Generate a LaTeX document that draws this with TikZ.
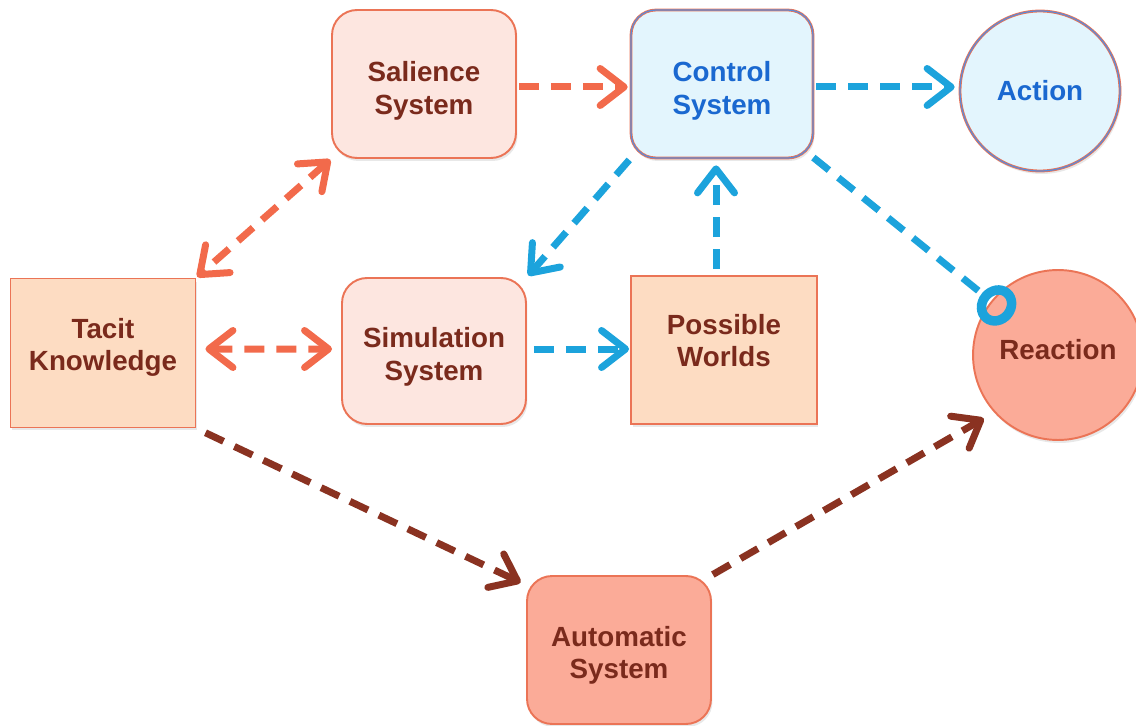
\documentclass[tikz,border=0pt]{standalone}
\usepackage{fontspec}
\setmainfont{Liberation Sans}
\usetikzlibrary{arrows.meta,shadows}
\definecolor{edgec}{HTML}{EB7456}
\definecolor{txtred}{HTML}{7A2A1C}
\definecolor{txtblue}{HTML}{1A68D0}
\definecolor{fillpink}{HTML}{FDE6E0}
\definecolor{fillpeach}{HTML}{FDDCC2}
\definecolor{fillblue}{HTML}{E3F5FD}
\definecolor{fillsalmon}{HTML}{FBAB98}
\definecolor{orangeln}{HTML}{F26A4B}
\definecolor{blueln}{HTML}{1CA3DC}
\definecolor{brownln}{HTML}{8A3221}
\definecolor{actedge}{HTML}{5C8AD6}
% two-line label lowered (positive) or raised (negative) by #1, keeping the box size
\newcommand{\twolbl}[3]{\raisebox{-#1}[\height][\depth]{\begin{tabular}{@{}c@{}}#2\\#3\end{tabular}}}
\newcommand{\onelbl}[2]{\raisebox{-#1}[\height][\depth]{#2}}
\begin{document}
\begin{tikzpicture}[x=0.02cm,y=-0.02cm,
  box/.style={draw=edgec, line width=1.1pt, minimum width=3.68cm, minimum height=2.96cm,
    font=\fontsize{15.8}{18.5}\selectfont\bfseries, text=txtred, inner sep=0pt,
    drop shadow={opacity=0.18, shadow xshift=0.03cm, shadow yshift=-0.06cm}},
  rbox/.style={box, rounded corners=0.5cm},
  circ/.style={box, circle, minimum width=0pt, minimum height=0pt},
  bluebord/.style={draw=edgec, line width=0.45pt, double=actedge, double distance=0.7pt},
  conn/.style={line width=0.14cm, dash pattern=on 0.4cm off 0.24cm},
  tipend/.style={-{Straight Barb[length=0.48cm,width=0.74cm,round]}},
  tipboth/.style={{Straight Barb[length=0.48cm,width=0.74cm,round]}-{Straight Barb[length=0.48cm,width=0.74cm,round]}},
]
\useasboundingbox (0,0) rectangle (1136,726);
\clip (0,0) rectangle (1136,726);

\node[rbox, fill=fillpink] (salience) at (424,84) {\twolbl{0.15cm}{Salience}{System}};
\node[rbox, fill=fillblue, bluebord, text=txtblue, minimum width=3.64cm] (control) at (722,84) {\twolbl{0.15cm}{Control}{System}};
\node[circ, fill=fillblue, bluebord, text=txtblue, minimum size=3.2cm] (action) at (1040,91) {Action};
\node[box, fill=fillpeach, minimum width=3.7cm, minimum height=2.98cm] (tacit) at (103,353) {\twolbl{-0.1cm}{Tacit}{Knowledge}};
\node[rbox, fill=fillpink, minimum height=2.92cm] (simulation) at (434,351) {\twolbl{0.13cm}{Simulation}{System}};
\node[box, fill=fillpeach, minimum width=3.72cm] (possible) at (724,350) {\twolbl{-0.12cm}{Possible}{Worlds}};
\node[circ, fill=fillsalmon, minimum size=3.4cm] (reaction) at (1058,355) {\onelbl{-0.1cm}{Reaction}};
\node[rbox, fill=fillsalmon] (automatic) at (619,650) {\twolbl{0.12cm}{Automatic}{System}};

% orange connectors
\draw[conn, draw=orangeln, tipend, shorten <=0.04cm, shorten >=0.06cm]
  ([yshift=-0.06cm]salience.east) -- ([yshift=-0.06cm]control.west);
\draw[conn, draw=orangeln, tipboth, shorten <=0.02cm, shorten >=0.02cm]
  (salience.south west) -- (tacit.north east);
\draw[conn, draw=orangeln, tipboth, shorten <=0.18cm, shorten >=0.18cm]
  ([yshift=0.08cm]tacit.east) -- ([yshift=0.04cm]simulation.west);

% blue connectors
\draw[conn, draw=blueln, tipend, shorten <=0.06cm, shorten >=0.1cm]
  ([yshift=-0.06cm]control.east) -- ([yshift=-0.06cm]control.east -| action.west);
\draw[conn, draw=blueln, tipend, shorten <=0.04cm, shorten >=0.04cm]
  (control.south west) -- (simulation.north east);
\draw[conn, draw=blueln, tipend, shorten <=0.12cm, shorten >=0.14cm]
  ([xshift=-0.16cm]possible.north) -- ([xshift=-0.16cm]possible.north |- control.south);
\draw[conn, draw=blueln, tipend, shorten <=0.14cm, shorten >=0.02cm]
  ([yshift=0.04cm]simulation.east) -- ([yshift=0.04cm]simulation.east -| possible.west);
\draw[conn, draw=blueln, -{Circle[open,length=0.76cm,width=0.84cm,line width=0.19cm]}, shorten >=-0.52cm]
  (control) -- (reaction);

% brown connectors
\draw[conn, draw=brownln, tipend, shorten <=0.2cm, shorten >=0.12cm]
  (tacit.south east) -- ([yshift=-0.2cm]automatic.north west);
\draw[conn, draw=brownln, tipend, shorten <=0.02cm, shorten >=0.24cm]
  (automatic.north east) -- (reaction.222);
\end{tikzpicture}
\end{document}
